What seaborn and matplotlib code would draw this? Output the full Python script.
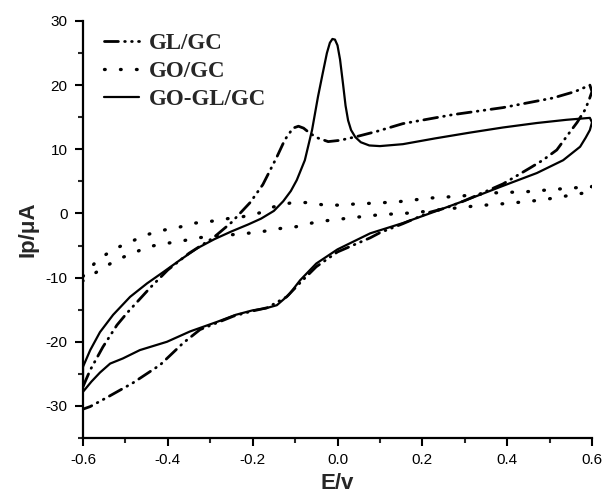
import numpy as np
import pandas as pd
import seaborn as sns
import matplotlib
matplotlib.use("Agg")
import matplotlib.pyplot as plt

# GL/GC : anodic sweep then cathodic sweep
gl_x = [-0.6, -0.583, -0.553, -0.52, -0.496, -0.442, -0.4, -0.35, -0.293, -0.25,
        -0.206, -0.176, -0.143, -0.124, -0.105, -0.092, -0.08, -0.065, -0.048, -0.022,
        0.006, 0.046, 0.093, 0.154, 0.272, 0.39, 0.508, 0.56, 0.595,
        0.6, 0.592, 0.583, 0.565, 0.548, 0.517, 0.484, 0.454, 0.39, 0.3,
        0.258, 0.218, 0.154, 0.1, 0.077, 0.0, -0.05, -0.088, -0.12, -0.166,
        -0.2, -0.245, -0.324, -0.364, -0.418, -0.482, -0.544, -0.583, -0.6]
gl_y = [-27.0, -24.4, -20.8, -17.4, -15.5, -11.6, -8.8, -6.2, -3.8, -1.4,
        1.7, 4.5, 8.8, 11.5, 13.3, 13.6, 13.3, 12.5, 11.8, 11.2,
        11.4, 12.0, 12.8, 14.0, 15.4, 16.5, 18.0, 19.0, 20.0,
        19.0, 17.5, 16.1, 14.2, 12.7, 9.9, 8.3, 7.1, 4.6, 2.0,
        0.9, 0.2, -1.6, -3.0, -3.8, -6.0, -8.3, -10.8, -13.0, -14.7,
        -15.2, -16.0, -18.1, -20.2, -23.6, -26.4, -28.7, -30.1, -30.5]

# GO/GC
go_x = [-0.6, -0.565, -0.525, -0.484, -0.449, -0.41, -0.371, -0.336, -0.296, -0.258,
        -0.223, -0.183, -0.152, -0.107, -0.07, -0.03, 0.006, 0.046, 0.084, 0.14,
        0.218, 0.289, 0.366, 0.447, 0.52, 0.6,
        0.6, 0.555, 0.482, 0.407, 0.329, 0.258, 0.178, 0.1, 0.07, 0.03,
        -0.01, -0.048, -0.1, -0.143, -0.183, -0.23, -0.28, -0.331, -0.367, -0.407,
        -0.447, -0.482, -0.52, -0.56, -0.6]
go_y = [-9.8, -7.2, -5.5, -4.3, -3.3, -2.6, -2.1, -1.5, -1.2, -0.8,
        -0.5, 0.1, 1.0, 1.7, 1.7, 1.3, 1.3, 1.5, 1.6, 1.8,
        2.4, 2.7, 3.2, 3.4, 3.8, 4.2,
        3.4, 2.9, 2.1, 1.6, 1.2, 0.7, 0.1, -0.2, -0.4, -0.7,
        -1.0, -1.3, -2.1, -2.4, -2.9, -3.2, -3.5, -3.8, -4.3, -4.7,
        -5.2, -6.2, -7.2, -8.8, -10.5]

# GO-GL/GC
gogl_x = [-0.6, -0.583, -0.56, -0.529, -0.489, -0.449, -0.41, -0.37, -0.33, -0.29,
          -0.25, -0.21, -0.18, -0.15, -0.128, -0.11, -0.096, -0.077, -0.06, -0.046,
          -0.035, -0.025, -0.018, -0.012, -0.006, 0.0, 0.006, 0.013, 0.019, 0.025,
          0.032, 0.042, 0.055, 0.075, 0.1,
          0.154, 0.23, 0.312, 0.39, 0.47, 0.54, 0.595,
          0.6, 0.595, 0.585, 0.572, 0.532, 0.47, 0.39, 0.312, 0.234, 0.154,
          0.077, 0.0, -0.05, -0.088, -0.115, -0.143, -0.17, -0.2, -0.24, -0.284,
          -0.348, -0.402, -0.466, -0.506, -0.536, -0.56, -0.58, -0.6, -0.6]
gogl_y = [-23.9, -21.3, -18.5, -15.8, -13.0, -10.9, -9.1, -7.2, -5.4, -4.0,
          -2.8, -1.7, -0.8, 0.4, 1.9, 3.5, 5.2, 8.3, 13.0, 18.2,
          21.8, 25.0, 26.6, 27.2, 27.1, 26.2, 24.0, 20.2, 16.8, 14.5,
          13.0, 11.9, 11.1, 10.6, 10.5,
          10.8, 11.7, 12.6, 13.4, 14.1, 14.6, 14.9,
          14.2, 13.0, 11.8, 10.4, 8.3, 6.3, 4.3, 2.3, 0.4, -1.5,
          -3.1, -5.6, -7.8, -10.4, -12.7, -14.3, -14.8, -15.1, -15.8, -16.9,
          -18.4, -20.0, -21.3, -22.6, -23.4, -24.8, -26.2, -27.8, -23.9]

sns.set_style("ticks")
plt.rcParams["lines.scale_dashes"] = False
plt.rcParams["lines.dash_capstyle"] = "round"
plt.rcParams["lines.solid_joinstyle"] = "round"
plt.rcParams["axes.unicode_minus"] = False
plt.rcParams["font.family"] = ["Liberation Sans", "DejaVu Sans"]

fig = plt.figure(figsize=(6.04, 4.98), dpi=100)
ax = fig.add_axes([83 / 604, 60 / 498, 509 / 604, 417 / 498])

series = [
    ("GL/GC", gl_x, gl_y, (0, (10, 4.5, 0.5, 4.5, 0.5, 4.5)), 2.0),
    ("GO/GC", go_x, go_y, (0, (0.5, 11)), 2.4),
    ("GO-GL/GC", gogl_x, gogl_y, "-", 1.6),
]
for name, xs, ys, ls, lw in series:
    df = pd.DataFrame({"E": xs, "I": ys})
    sns.lineplot(data=df, x="E", y="I", sort=False, estimator=None, ax=ax,
                 color="black", linestyle=ls, linewidth=lw, label=name)

ax.set_xlim(-0.6, 0.6)
ax.set_ylim(-35, 30)
ax.set_xticks(np.arange(-0.6, 0.61, 0.2))
ax.set_xticks(np.arange(-0.5, 0.6, 0.2), minor=True)
ax.set_yticks(np.arange(-30, 31, 10))
ax.set_yticks(np.arange(-35, 31, 10), minor=True)
ax.set_xticklabels(["-0.6", "-0.4", "-0.2", "0.0", "0.2", "0.4", "0.6"])
ax.tick_params(which="major", direction="out", length=6, width=1.5, labelsize=11,
               colors="black", pad=5)
ax.tick_params(which="minor", direction="out", length=3.5, width=1.5)
for s in ["left", "bottom"]:
    ax.spines[s].set_linewidth(1.6)
    ax.spines[s].set_color("black")
sns.despine(ax=ax)

ax.set_xlabel("E/v", fontsize=16, fontweight="bold", labelpad=4)
ax.set_ylabel("Ip/\u03bcA", fontsize=16, fontweight="bold", labelpad=5)

ax.legend(loc="upper left", bbox_to_anchor=(0.015, 1.005), frameon=False,
          prop={"family": "Liberation Serif", "weight": "bold", "size": 16.5},
          handlelength=1.5, handletextpad=0.45, labelspacing=0.3, borderpad=0.1)

fig.savefig("out.png", dpi=100)
